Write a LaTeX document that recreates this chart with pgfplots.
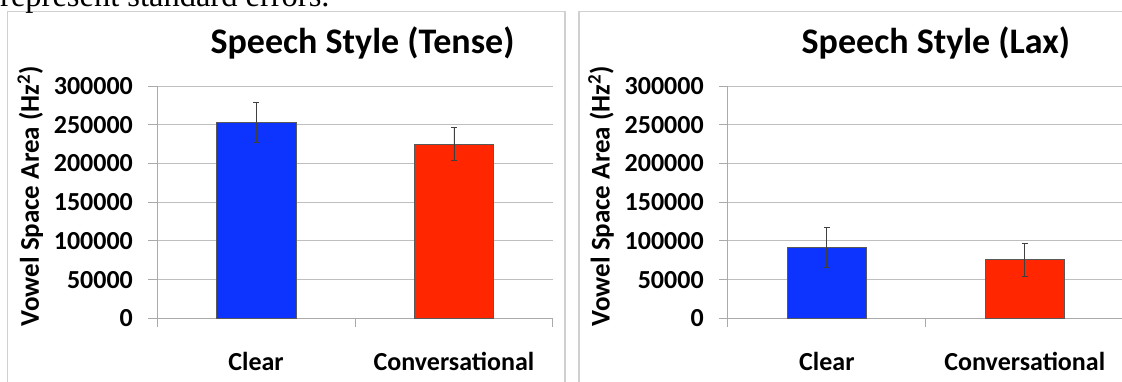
\documentclass[border=0pt]{standalone}
\usepackage{fontspec}
\setmainfont{Carlito}
\newfontfamily\capfont{Liberation Serif}
\usepackage{pgfplots}
\pgfplotsset{compat=1.18}

\definecolor{barblue}{RGB}{13,51,255}
\definecolor{barred}{RGB}{255,38,0}
\definecolor{gridgray}{RGB}{190,190,190}
\definecolor{axisgray}{RGB}{170,170,170}
\definecolor{framegray}{RGB}{208,208,208}

% one panel of vowel space area by speech style
\pgfplotsset{
  vsa/.style={
    scale only axis,
    width=395.8pt, height=232.3pt,
    anchor=south west,
    xmin=-0.5, xmax=1.5, ymin=0, ymax=300000,
    axis x line*=bottom, axis y line*=left,
    axis line style={axisgray, line width=0.9pt},
    tick align=outside, major tick length=9pt,
    tick style={axisgray, line width=0.9pt},
    xtick={-0.5,0.5,1.5}, xticklabels={},
    extra x ticks={0,1},
    extra x tick labels={Clear,Conversational},
    extra x tick style={major tick length=0pt,
      xticklabel style={anchor=base, inner sep=0pt, yshift=-51.7pt}},
    ytick={0,50000,100000,150000,200000,250000,300000},
    scaled y ticks=false,
    /pgf/number format/fixed,
    /pgf/number format/precision=0,
    /pgf/number format/1000 sep={},
    /pgf/number format/assume math mode=true,
    ymajorgrids,
    grid style={gridgray, line width=0.9pt},
    ticklabel style={font=\bfseries\fontsize{26}{26}\selectfont},
    yticklabel style={anchor=east, inner sep=0pt, xshift=-15pt},
    ylabel={Vowel Space Area (Hz\textsuperscript{2})},
    every axis y label/.style={at={(axis description cs:-0.3206,0.526)},
      rotate=90, anchor=center,
      font=\bfseries\fontsize{27}{27}\selectfont},
    title style={anchor=base, inner sep=0pt,
      font=\bfseries\fontsize{36}{36}\selectfont},
  },
  bars/.style={ybar, bar width=79.7pt, bar shift=0pt,
    draw=black!65, line width=0.8pt,
    error bars/y dir=both, error bars/y explicit,
    error bars/error bar style={black!75, line width=0.8pt},
    error bars/error mark options={rotate=90, black!75, mark size=3pt, line width=0.8pt}},
}

\begin{document}
\begin{tikzpicture}
\path[use as bounding box] (0pt,0pt) rectangle (1122pt,381pt);
\clip (0pt,0pt) rectangle (1122pt,381pt);

% panel frames
\draw[framegray, line width=1.4pt] (7.3pt,-5pt) -- (7.3pt,369.3pt) -- (565pt,369.3pt) -- (565pt,-5pt);
\draw[framegray, line width=1.4pt] (579pt,-5pt) -- (579pt,369.3pt) -- (1135pt,369.3pt);

% caption line above the figure
\node[anchor=base west, inner sep=0pt, font=\capfont\fontsize{32.5}{32.5}\selectfont]
  at (0pt,374pt) {represent standard errors.};

% tense vowels
\begin{axis}[vsa, at={(157.1pt,62.7pt)},
  title={Speech Style (Tense)},
  title style={at={(axis description cs:0.519,1.115)}}]
\addplot[bars, fill=barblue] coordinates {(0,253000) +- (0,26000)};
\addplot[bars, fill=barred] coordinates {(1,225000) +- (0,21000)};
\end{axis}

% lax vowels
\begin{axis}[vsa, at={(727.9pt,62.7pt)},
  title={Speech Style (Lax)},
  title style={at={(axis description cs:0.5255,1.115)}}]
\addplot[bars, fill=barblue] coordinates {(0,91500) +- (0,26000)};
\addplot[bars, fill=barred] coordinates {(1,75500) +- (0,21000)};
\end{axis}
\end{tikzpicture}
\end{document}
